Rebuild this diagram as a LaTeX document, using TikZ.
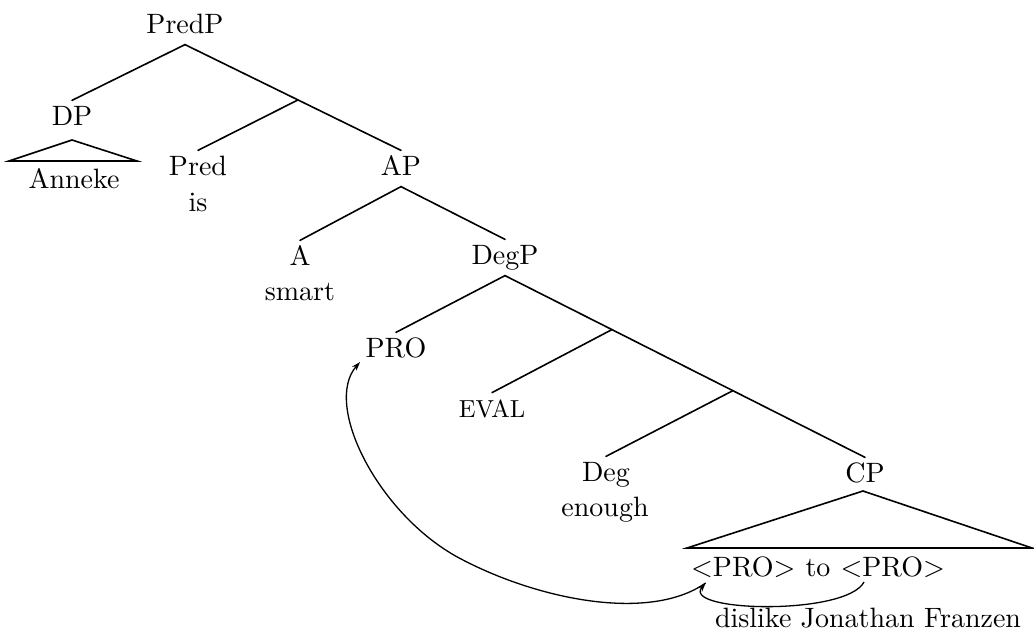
\documentclass[tikz,border=0pt]{standalone}
\usetikzlibrary{calc,arrows.meta}
\begin{document}
\begin{tikzpicture}[x=1pt,y=-1pt,
  lbl/.style={inner xsep=0pt, inner ysep=1.8pt, text height=6.8pt, text depth=2.15pt,
              anchor=base, transform shape, scale=2.8, font=\fontsize{10}{12}\selectfont},
  word/.style={inner sep=0pt, anchor=base, transform shape, scale=2.8, font=\fontsize{10}{12}\selectfont},
  branch/.style={line width=1.6pt, line cap=round},
  roof/.style={line width=1.6pt, line join=miter},
  move/.style={line width=1.3pt, -{Stealth[length=9pt,width=6pt]}}]
\useasboundingbox (0,0) rectangle (1034,640);

% category labels and lexical items
\node[lbl]  (PredP)  at (185,33)  {PredP};
\node[lbl]  (DP)     at (72,125)  {DP};
\node[word] (Anneke) at (74,188)  {Anneke};
\node[lbl]  (Pred)   at (198,175) {Pred};
\node[word] (is)     at (198,211) {is};
\node[lbl]  (AP)     at (401,175) {AP};
\node[lbl]  (A)      at (300,265) {A};
\node[word] (smart)  at (300,300) {smart};
\node[lbl]  (DegP)   at (505,264) {DegP};
\node[lbl]  (PRO)    at (396,357) {PRO};
% smaller capitals: scale relative to the 2.8 of lbl
\node[lbl, scale=0.88, text height=7.7pt, inner ysep=2pt] (EVAL) at (492,417) {EVAL};
\node[lbl]  (Deg)    at (606,481) {Deg};
\node[word] (enough) at (605,516) {enough};
\node[lbl]  (CP)     at (865,482) {CP};
\node[word] (to)     at (818,576) {to};
\node[word, anchor=base east] (pro1) at ($(to.base west)+(-9,0)$) {\textless PRO\textgreater};
\node[word, anchor=base west] (pro2) at ($(to.base east)+(9,0)$)  {\textless PRO\textgreater};
\node[word] (yield)  at (868,627) {dislike Jonathan Franzen};

% branching points on the right-hand spines
\coordinate (j0) at ($(PredP.south)!0.523!(AP.north)$);
\coordinate (j1) at ($(DegP.south)!0.297!(CP.north)$);
\coordinate (j2) at ($(DegP.south)!0.633!(CP.north)$);

% branches
\draw[branch] (DP.north) -- (PredP.south) -- (AP.north);
\draw[branch] (j0) -- (Pred.north);
\draw[branch] (A.north) -- (AP.south) -- (DegP.north);
\draw[branch] (PRO.north) -- (DegP.south) -- (CP.north);
\draw[branch] (j1) -- (EVAL.north);
\draw[branch] (j2) -- (Deg.north);

% roofs over unanalysed constituents
\draw[roof] (9,161) -- (72,140) -- (137,161) -- cycle;
\draw[roof] (687,548) -- (863,491) -- (1032,548) -- cycle;

% movement arrows
\coordinate (s1) at ($(pro2.base west)+(24,6)$);
\coordinate (e1) at ($(pro1.base west)+(15,7)$);
\coordinate (p0) at ($(PRO.base west)+(-5,5)$);
\draw[move] (s1) .. controls ($(s1)+(-18,34)$) and ($(e1)+(-25,29)$) .. (e1);
\draw[move] (e1) .. controls (650,622) and (540,600) .. (463,560)
                 .. controls (380,518) and (322,405) .. (p0);
\end{tikzpicture}
\end{document}
